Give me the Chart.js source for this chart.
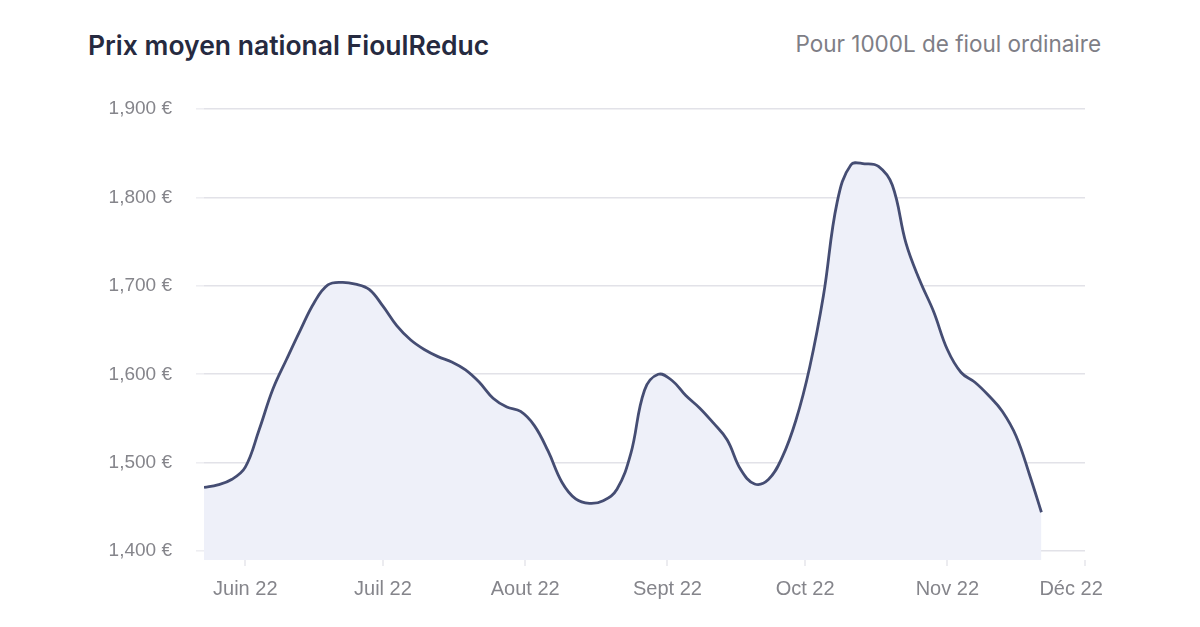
<!DOCTYPE html>
<html>
<head>
<meta charset="utf-8">
<script src="https://cdn.jsdelivr.net/npm/chart.js@4.4.1/dist/chart.umd.min.js"></script>
<style>
  html, body { margin: 0; padding: 0; background: #ffffff; }
  #wrap { position: relative; width: 1200px; height: 627px; overflow: hidden; }
  #title { position: absolute; left: 88px; top: 29px; font-family: Inter, "Open Sans", sans-serif; font-weight: 600; font-size: 26.5px; color: #262a40; white-space: nowrap; }
  #subtitle { position: absolute; right: 99px; top: 30px; font-family: Inter, "Open Sans", sans-serif; font-weight: 400; font-size: 22.5px; color: #7e7e86; white-space: nowrap; }
  #c { position: absolute; left: 0; top: 0; }
</style>
</head>
<body>
<div id="wrap">
  <div id="title">Prix moyen national FioulReduc</div>
  <div id="subtitle">Pour 1000L de fioul ordinaire</div>
  <canvas id="c" width="1200" height="627"></canvas>
</div>
<script>
// Days counted from 1 June 2022
const dayOffsets = [-9, -6, -3, 0, 3, 6, 9, 12, 15, 18, 21, 24, 27, 30, 33, 36, 39, 42, 45, 48, 51, 54, 57, 60, 63, 66, 69, 72, 75, 78, 81, 84, 87, 90, 93, 96, 99, 102, 105, 108, 111, 114, 117, 120, 123, 126, 129, 132, 135, 138, 141, 144, 147, 150, 153, 156, 159, 162, 165, 168, 171, 173.5];
const prices =     [1472, 1475, 1481, 1495, 1537, 1583, 1617, 1650, 1681, 1701, 1704, 1702, 1696, 1677, 1655, 1639, 1628, 1620, 1614, 1605, 1591, 1573, 1563, 1558, 1542, 1513, 1478, 1459, 1454, 1457, 1470, 1510, 1582, 1600, 1593, 1576, 1562, 1545, 1526, 1492, 1476, 1481, 1506, 1548, 1608, 1689, 1795, 1837, 1838, 1835, 1814, 1748, 1706, 1671, 1628, 1602, 1591, 1576, 1558, 1530, 1485, 1444];

const monthTickDays = [0, 30, 61, 92, 122, 153, 183];
const monthLabels = ['Juin 22', 'Juil 22', 'Aout 22', 'Sept 22', 'Oct 22', 'Nov 22', 'Déc 22     '];

const priceTicks = [1400, 1500, 1600, 1700, 1800, 1900];
const priceTickLabels = ['1,400 €', '1,500 €', '1,600 €', '1,700 €', '1,800 €', '1,900 €'];

const points = dayOffsets.map((d, i) => ({ x: d, y: prices[i] }));

new Chart(document.getElementById('c'), {
  type: 'line',
  data: {
    datasets: [{
      data: points,
      borderColor: '#454d73',
      borderWidth: 2.8,
      backgroundColor: '#eef0f9',
      fill: 'start',
      pointRadius: 0,
      tension: 0.4
    }]
  },
  options: {
    responsive: false,
    animation: false,
    events: [],
    layout: { padding: { left: 104, right: 115, top: 109, bottom: 17 } },
    plugins: { legend: { display: false }, tooltip: { enabled: false } },
    scales: {
      x: {
        type: 'linear',
        min: -9,
        max: 183,
        afterBuildTicks: (scale) => { scale.ticks = monthTickDays.map(v => ({ value: v })); },
        afterFit: (scale) => { scale.height = 50; },
        border: { display: false },
        grid: { drawOnChartArea: false, drawTicks: true, tickLength: 6, color: '#ececf0', lineWidth: 2 },
        ticks: {
          padding: 11,
          color: '#85858b',
          font: { family: 'Liberation Sans, Arial, sans-serif', size: 20 },
          autoSkip: false,
          maxRotation: 0,
          callback: (v) => { const i = monthTickDays.indexOf(v); return i >= 0 ? monthLabels[i] : ''; }
        }
      },
      y: {
        min: 1390,
        max: 1900,
        afterBuildTicks: (scale) => { scale.ticks = priceTicks.map(v => ({ value: v })); },
        afterFit: (scale) => { scale.width = 100; },
        border: { display: false },
        grid: { color: '#e2e2e8', lineWidth: 1.6, drawTicks: true, tickLength: 8, tickColor: '#eeeef2' },
        ticks: {
          padding: 24,
          color: '#85858b',
          font: { family: 'Liberation Sans, Arial, sans-serif', size: 19 },
          callback: (v) => { const i = priceTicks.indexOf(v); return i >= 0 ? priceTickLabels[i] : ''; }
        }
      }
    }
  }
});
</script>
</body>
</html>
